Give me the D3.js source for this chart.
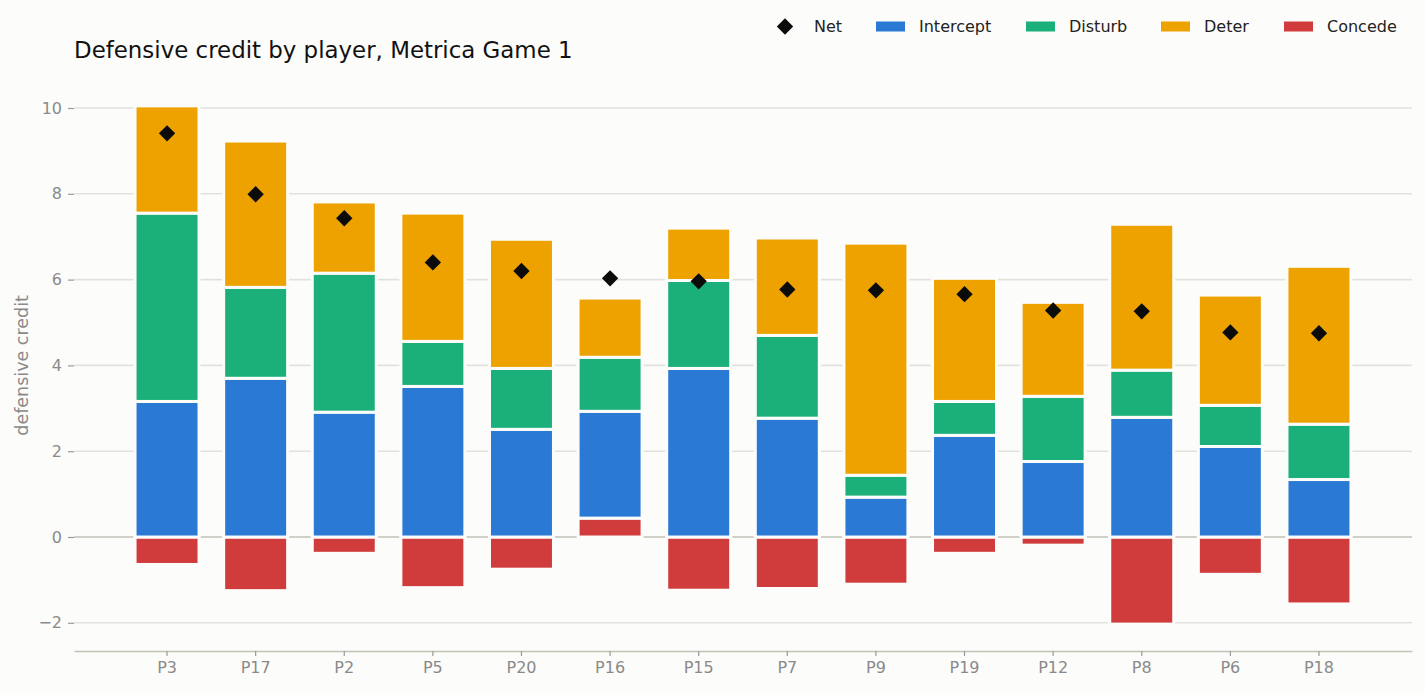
<!DOCTYPE html>
<html>
<head>
<meta charset="utf-8">
<script src="https://cdn.jsdelivr.net/npm/d3@7"></script>
<style>
  html, body { margin: 0; padding: 0; background: #fcfcfa; }
  svg { display: block; font-family: "DejaVu Sans", sans-serif; }
</style>
</head>
<body>
<svg id="chart" width="1425" height="693"></svg>
<script>
// ---- data ----
const players   = ["P3","P17","P2","P5","P20","P16","P15","P7","P9","P19","P12","P8","P6","P18"];
const intercept = [3.16, 3.70, 2.91, 3.51, 2.51, 2.49, 3.93, 2.77, 0.93, 2.37, 1.76, 2.79, 2.11, 1.34];
const disturb   = [4.39, 2.12, 3.24, 1.05, 1.42, 1.26, 2.05, 1.93, 0.51, 0.79, 1.52, 1.10, 0.96, 1.29];
const deter     = [2.50, 3.41, 1.66, 2.99, 3.01, 1.38, 1.22, 2.27, 5.41, 2.87, 2.19, 3.40, 2.57, 3.68];
const concede   = [-0.64, -1.25, -0.38, -1.18, -0.75, 0.44, -1.24, -1.20, -1.10, -0.38, -0.19, -2.03, -0.87, -1.56];
const net       = [9.41, 7.99, 7.43, 6.40, 6.20, 6.03, 5.96, 5.77, 5.75, 5.66, 5.28, 5.26, 4.77, 4.75];
const yTicks    = [-2, 0, 2, 4, 6, 8, 10];
const seriesNames  = ["Concede", "Intercept", "Disturb", "Deter"];
const legendNames  = ["Net", "Intercept", "Disturb", "Deter", "Concede"];
const colors = { Intercept: "#2a7ad5", Disturb: "#1bb07a", Deter: "#eda200", Concede: "#d03c3c", Net: "#0b0b0b" };

const rows = players.map((p, i) => ({
  player: p, Intercept: intercept[i], Disturb: disturb[i], Deter: deter[i], Concede: concede[i], Net: net[i]
}));

// ---- layout ----
const svg = d3.select("#chart");
const left = 74, right = 1412, bottom = 651;

const x = d3.scaleBand().domain(players).range([left, right]).paddingInner(0).paddingOuter(0.55);
const y = d3.scaleLinear().domain([-2.657, 10.6]).range([bottom, bottom - 13.257 * 42.9]);

// grid
const grid = svg.append("g");
grid.selectAll("line").data(yTicks).join("line")
  .attr("x1", left).attr("x2", right)
  .attr("y1", d => y(d)).attr("y2", d => y(d))
  .attr("stroke", d => d === 0 ? "#c2c2b9" : "#e2e2dd")
  .attr("stroke-width", 1.6);

// bars
const stack = d3.stack().keys(seriesNames).offset(d3.stackOffsetDiverging);
const stacked = stack(rows);
const barW = x.step() * 0.722;
const barsG = svg.append("g");
stacked.forEach(layer => {
  barsG.append("g").attr("fill", colors[layer.key])
    .selectAll("rect").data(layer).join("rect")
    .attr("x", d => x(d.data.player) + x.bandwidth() / 2 - barW / 2)
    .attr("width", barW)
    .attr("y", d => y(Math.max(d[0], d[1])))
    .attr("height", d => Math.abs(y(d[0]) - y(d[1])))
    .attr("stroke", "#fcfcfa")
    .attr("stroke-width", 3);
});

// net diamonds
const diamond = d3.symbol().type(d3.symbolDiamond2).size(170);
svg.append("g").selectAll("path").data(rows).join("path")
  .attr("d", diamond)
  .attr("transform", d => `translate(${x(d.player) + x.bandwidth() / 2},${y(d.Net)})`)
  .attr("fill", colors.Net);

// y axis
const yAxis = d3.axisLeft(y).tickValues(yTicks).tickSize(6).tickPadding(6)
  .tickFormat(d => d < 0 ? "\u2212" + Math.abs(d) : String(d));
const yg = svg.append("g").attr("transform", `translate(${left},0)`).call(yAxis);
yg.select(".domain").remove();
yg.selectAll(".tick line").attr("stroke", "#9a9a9a").attr("stroke-width", 1.2);
yg.selectAll(".tick text").attr("fill", "#8a8a8a").attr("font-size", 16).attr("font-family", "DejaVu Sans");

// x axis
const xAxis = d3.axisBottom(x).tickSize(5).tickPadding(6).tickSizeOuter(0);
const xg = svg.append("g").attr("transform", `translate(0,${bottom})`).call(xAxis);
xg.select(".domain").attr("stroke", "#c2c2b9").attr("stroke-width", 1.6);
xg.selectAll(".tick line").attr("stroke", "#9a9a9a").attr("stroke-width", 1.2);
xg.selectAll(".tick text").attr("fill", "#8a8a8a").attr("font-size", 16).attr("font-family", "DejaVu Sans");

// y label
svg.append("text")
  .attr("transform", `translate(28,${y(4.0)}) rotate(-90)`)
  .attr("text-anchor", "middle")
  .attr("fill", "#8a8a8a").attr("font-size", 17.5)
  .text("defensive credit");

// title
svg.append("text")
  .attr("x", 74).attr("y", 58)
  .attr("fill", "#111").attr("font-size", 22.9)
  .text("Defensive credit by player, Metrica Game 1");

// legend
const legendX = [785, 890, 1040, 1175, 1298];
const legend = svg.append("g");
legendNames.forEach((name, i) => {
  const g = legend.append("g").attr("transform", `translate(${legendX[i]},26.5)`);
  if (name === "Net") {
    g.append("path").attr("d", diamond).attr("fill", colors.Net);
  } else {
    g.append("rect").attr("x", -14).attr("y", -5).attr("width", 29).attr("height", 10).attr("fill", colors[name]);
  }
  g.append("text").attr("x", 29).attr("y", 0).attr("dy", "0.35em")
    .attr("fill", "#222").attr("font-size", 16).text(name);
});
</script>
</body>
</html>
